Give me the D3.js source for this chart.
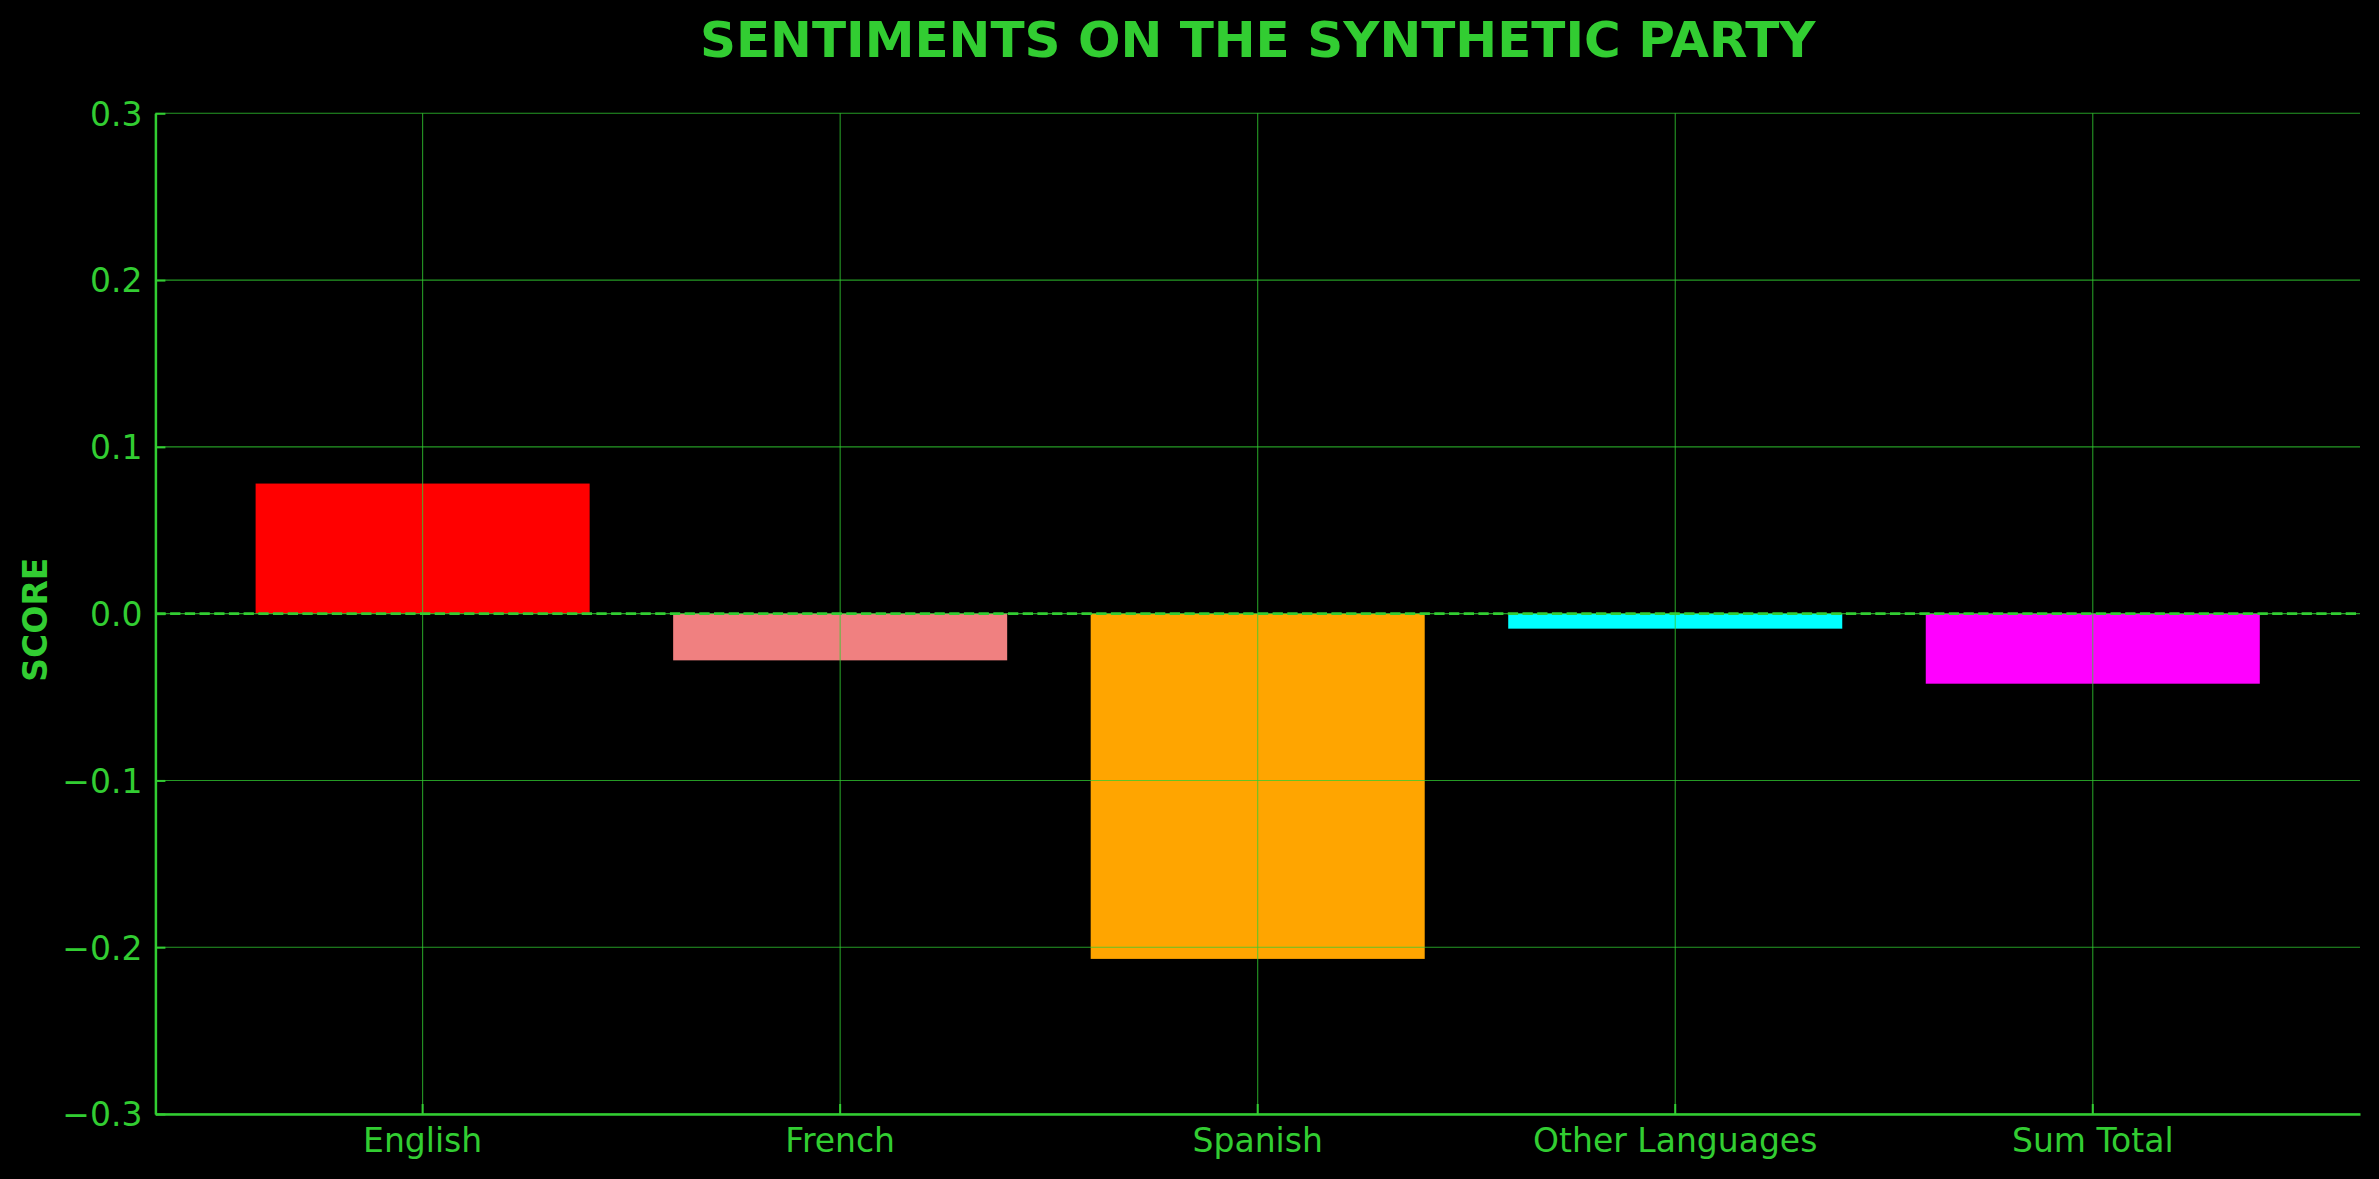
<!DOCTYPE html>
<html>
<head>
<meta charset="utf-8">
<script src="https://cdn.jsdelivr.net/npm/d3@7"></script>
<style>
  html, body { margin: 0; padding: 0; background: #000; }
  svg { display: block; }
  text { font-family: "DejaVu Sans", sans-serif; }
</style>
</head>
<body>
<svg id="chart" width="2379" height="1179"></svg>
<script>
const categories = ["English", "French", "Spanish", "Other Languages", "Sum Total"];
const scores = [0.078, -0.028, -0.207, -0.009, -0.042];
const barColors = ["#ff0000", "#f08080", "#ffa500", "#00ffff", "#ff00ff"];
const yTicks = [-0.3, -0.2, -0.1, 0.0, 0.1, 0.2, 0.3];
const titleText = "SENTIMENTS ON THE SYNTHETIC PARTY";
const yLabelText = "SCORE";

const W = 2379, H = 1179;
const margin = { left: 155.4, right: W - 2360, top: 113.3, bottom: H - 1114 };
const green = "#32cd32";

const svg = d3.select("#chart");
svg.append("rect").attr("width", W).attr("height", H).attr("fill", "#000");

const x = d3.scaleBand()
  .domain(categories)
  .range([margin.left, W - margin.right])
  .paddingInner(0.2)
  .paddingOuter(0.24);

const y = d3.scaleLinear()
  .domain([-0.3, 0.3])
  .range([H - margin.bottom, margin.top]);

// Bars
svg.append("g").selectAll("rect")
  .data(categories)
  .join("rect")
  .attr("x", d => x(d))
  .attr("width", x.bandwidth())
  .attr("y", (d, i) => y(Math.max(0, scores[i])))
  .attr("height", (d, i) => Math.abs(y(scores[i]) - y(0)))
  .attr("fill", (d, i) => barColors[i]);

// Grid (drawn over bars)
const grid = svg.append("g").attr("stroke", green).attr("stroke-opacity", 0.75).attr("stroke-width", 1.1);
grid.selectAll("line.h").data(yTicks).join("line").attr("class", "h")
  .attr("x1", margin.left).attr("x2", W - margin.right)
  .attr("y1", d => y(d)).attr("y2", d => y(d));
grid.selectAll("line.v").data(categories).join("line").attr("class", "v")
  .attr("x1", d => x(d) + x.bandwidth() / 2).attr("x2", d => x(d) + x.bandwidth() / 2)
  .attr("y1", margin.top).attr("y2", H - margin.bottom);

// Zero dashed line
svg.append("line")
  .attr("x1", margin.left).attr("x2", W - margin.right)
  .attr("y1", y(0)).attr("y2", y(0))
  .attr("stroke", green).attr("stroke-width", 2.8)
  .attr("stroke-dasharray", "10.3,4.4");

const fmt = v => (v < 0 ? "\u2212" : "") + Math.abs(v).toFixed(1);

// Y axis
const yAxis = svg.append("g")
  .attr("transform", `translate(${margin.left},0)`)
  .call(d3.axisLeft(y).tickValues(yTicks).tickFormat(fmt).tickSizeInner(-10).tickSizeOuter(0).tickPadding(13));
yAxis.select(".domain").attr("stroke", green).attr("stroke-width", 2.5);
yAxis.selectAll(".tick line").attr("stroke", green).attr("stroke-width", 2);
yAxis.selectAll(".tick text").attr("fill", green).attr("font-size", 33)
  .attr("font-family", "DejaVu Sans").attr("dy", "0.36em");

// X axis
const xAxis = svg.append("g")
  .attr("transform", `translate(0,${H - margin.bottom})`)
  .call(d3.axisBottom(x).tickSizeInner(-10).tickSizeOuter(0).tickPadding(15));
xAxis.select(".domain").attr("stroke", green).attr("stroke-width", 2.5);
xAxis.selectAll(".tick line").attr("stroke", green).attr("stroke-width", 2);
xAxis.selectAll(".tick text").attr("fill", green).attr("font-size", 33)
  .attr("font-family", "DejaVu Sans");

// Title
svg.append("text")
  .attr("x", (margin.left + W - margin.right) / 2)
  .attr("y", 57)
  .attr("text-anchor", "middle")
  .attr("fill", green)
  .attr("font-size", 50)
  .attr("font-weight", "bold")
  .text(titleText);

// Y label
svg.append("text")
  .attr("transform", `translate(47,${y(0) + 6}) rotate(-90)`)
  .attr("text-anchor", "middle")
  .attr("fill", green)
  .attr("font-size", 33)
  .attr("font-weight", "bold")
  .text(yLabelText);
</script>
</body>
</html>
